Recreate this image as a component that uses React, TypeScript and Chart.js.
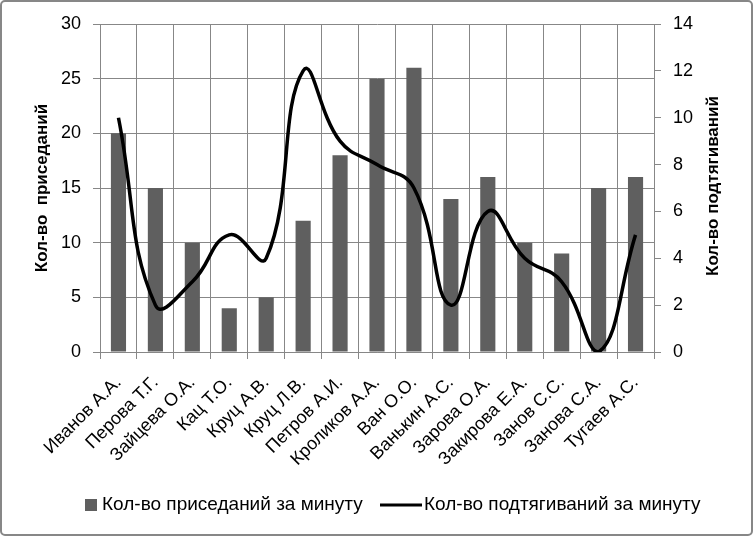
import React, { useEffect, useRef } from "react";
import { Chart, registerables } from "chart.js";

Chart.register(...registerables);

const categories = [
  "Иванов А.А.",
  "Перова Т.Г.",
  "Зайцева О.А.",
  "Кац Т.О.",
  "Круц А.В.",
  "Круц Л.В.",
  "Петров А.И.",
  "Кроликов А.А.",
  "Ван О.О.",
  "Ванькин А.С.",
  "Зарова О.А.",
  "Закирова Е.А.",
  "Занов С.С.",
  "Занова С.А.",
  "Тугаев А.С.",
];
const squats = [20, 15, 10, 4, 5, 12, 18, 25, 26, 14, 16, 10, 9, 15, 16];
const pullups = [10, 2, 3, 5, 4, 12, 9, 8, 7, 2, 6, 4, 3, 0, 5];

const squatsLabel = "Кол-во приседаний за минуту";
const pullupsLabel = "Кол-во подтягиваний за минуту";
const leftTitle = "Кол-во  приседаний";
const rightTitle = "Кол-во подтягиваний";

const leftMin = 0, leftMax = 30, leftStep = 5;
const rightMin = 0, rightMax = 14, rightStep = 2;

const FONT = "'Liberation Sans', Arial, sans-serif";
const GRID = "#878787";
const BAR = "#5f5f5f";

const decorPlugin = {
  id: "decor",
  beforeDraw(chart: any) {
    const { ctx, width, height } = chart;
    ctx.save();
    ctx.fillStyle = "#ffffff";
    ctx.fillRect(0, 0, width, height);
    ctx.restore();
  },
  afterDraw(chart: any) {
    const { ctx, width, height, chartArea } = chart;
    ctx.save();
    // outer border
    ctx.strokeStyle = GRID;
    ctx.lineWidth = 2;
    ctx.beginPath();
    if (ctx.roundRect) ctx.roundRect(1, 1, width - 2, height - 2, 4);
    else ctx.rect(1, 1, width - 2, height - 2);
    ctx.stroke();

    // axis titles (both read bottom-to-top)
    const cy = (chartArea.top + chartArea.bottom) / 2;
    ctx.fillStyle = "#000";
    ctx.font = `bold 17px ${FONT}`;
    ctx.textAlign = "center";
    ctx.textBaseline = "middle";
    ctx.save();
    ctx.translate(42, cy);
    ctx.rotate(-Math.PI / 2);
    ctx.fillText(leftTitle, 0, 0);
    ctx.restore();
    ctx.save();
    ctx.translate(713, cy - 2);
    ctx.rotate(-Math.PI / 2);
    ctx.fillText(rightTitle, 0, 0);
    ctx.restore();

    // legend
    const ly = 505;
    ctx.font = `19px ${FONT}`;
    ctx.textAlign = "left";
    ctx.textBaseline = "middle";
    ctx.fillStyle = BAR;
    ctx.fillRect(85, ly - 6, 12, 12);
    ctx.fillStyle = "#000";
    ctx.fillText(squatsLabel, 102, ly);
    ctx.strokeStyle = "#000";
    ctx.lineWidth = 3;
    ctx.beginPath();
    ctx.moveTo(380, ly);
    ctx.lineTo(422, ly);
    ctx.stroke();
    ctx.fillText(pullupsLabel, 424, ly);
    ctx.restore();
  },
};

export default function App() {
  const ref = useRef<HTMLCanvasElement>(null);
  useEffect(() => {
    if (!ref.current) return;
    const chart = new Chart(ref.current, {
      type: "bar",
      data: {
        labels: categories,
        datasets: [
          {
            type: "line",
            label: pullupsLabel,
            data: pullups,
            yAxisID: "y1",
            borderColor: "#000",
            backgroundColor: "#000",
            borderWidth: 3.5,
            pointRadius: 0,
            tension: 0.45,
            order: 0,
          } as any,
          {
            type: "bar",
            label: squatsLabel,
            data: squats,
            yAxisID: "y",
            backgroundColor: BAR,
            borderWidth: 0,
            barPercentage: 0.41,
            categoryPercentage: 1,
            order: 1,
          },
        ],
      },
      options: {
        responsive: false,
        animation: false,
        devicePixelRatio: 1,
        layout: { padding: { top: 24, left: 0, right: 0, bottom: 0 } },
        plugins: {
          legend: { display: false },
          tooltip: { enabled: false },
          title: { display: false },
        },
        scales: {
          x: {
            type: "category",
            offset: true,
            grid: {
              display: true,
              offset: true,
              color: GRID,
              lineWidth: 1,
              tickLength: 7,
              drawTicks: true,
            },
            border: { display: true, color: GRID },
            ticks: {
              color: "#000",
              font: { family: FONT, size: 18 },
              maxRotation: 45,
              minRotation: 45,
              autoSkip: false,
              padding: 13,
            },
            afterFit(scale: any) {
              scale.height = 536 - 352;
            },
          },
          y: {
            position: "left",
            min: leftMin,
            max: leftMax,
            grid: { color: GRID, lineWidth: 1, tickLength: 7 },
            border: { display: true, color: GRID },
            ticks: {
              stepSize: leftStep,
              color: "#000",
              font: { family: FONT, size: 18 },
              padding: 12,
            },
            afterFit(scale: any) {
              scale.width = 100;
            },
          },
          y1: {
            position: "right",
            min: rightMin,
            max: rightMax,
            grid: { drawOnChartArea: false, color: GRID, lineWidth: 1, tickLength: 7 },
            border: { display: true, color: GRID },
            ticks: {
              stepSize: rightStep,
              color: "#000",
              font: { family: FONT, size: 18 },
              padding: 12,
            },
            afterFit(scale: any) {
              scale.width = 753 - 654;
            },
          },
        },
      },
      plugins: [decorPlugin],
    });
    return () => chart.destroy();
  }, []);
  return (
    <div style={{ position: "absolute", left: 0, top: 0, width: 753, height: 536 }}>
      <canvas ref={ref} width={753} height={536} style={{ display: "block" }} />
    </div>
  );
}
